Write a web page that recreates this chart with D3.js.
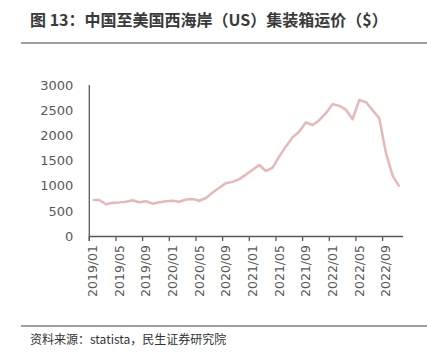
<!DOCTYPE html>
<html><head><meta charset="utf-8">
<script src="https://cdn.jsdelivr.net/npm/d3@7"></script>
<style>
html,body{margin:0;padding:0;background:#fff;}
svg{display:block;}
</style></head>
<body>
<svg id="c" width="427" height="352"></svg>
<script>
const titleText = "图 13：中国至美国西海岸（US）集装箱运价（$）";
const sourceText = "资料来源：statista，民生证券研究院";
const months = [];
for (let y = 2019; y <= 2022; y++) for (let m = 1; m <= 12; m++) months.push(y + "/" + String(m).padStart(2, "0"));
const categories = months.slice(0, 47); // 2019/01 .. 2022/11
const values = [715,715,630,662,668,680,710,672,690,642,672,690,
                702,680,725,735,700,755,865,960,1050,1075,1130,1220,
                1315,1411,1291,1360,1580,1780,1960,2075,2259,2205,2300,2440,
                2620,2585,2510,2320,2702,2660,2500,2340,1650,1200,980];
const yTicks = [0,500,1000,1500,2000,2500,3000];
const xTickLabels = ["2019/01","2019/05","2019/09","2020/01","2020/05","2020/09","2021/01","2021/05","2021/09","2022/01","2022/05","2022/09"];

const svg = d3.select("#c");
const axisColor = "#595959";
const font = "'Noto Sans CJK SC', 'Noto Sans', sans-serif";

svg.append("text").attr("x", 30).attr("y", 26)
  .attr("font-family", font).attr("font-weight", "bold").attr("font-size", 16)
  .attr("fill", "#3a3a3a").text(titleText);
svg.append("line").attr("x1", 21).attr("x2", 427).attr("y1", 43).attr("y2", 43)
  .attr("stroke", "#7f7f7f").attr("stroke-width", 1.5);
svg.append("line").attr("x1", 21).attr("x2", 427).attr("y1", 326).attr("y2", 326)
  .attr("stroke", "#7f7f7f").attr("stroke-width", 1.5);
svg.append("text").attr("x", 30).attr("y", 344)
  .attr("font-family", font).attr("font-size", 12)
  .attr("fill", "#333").text(sourceText);

const x = d3.scaleBand().domain(categories).range([89.3, 402.6]).padding(0);
const y = d3.scaleLinear().domain([0, 3000]).range([236, 85]);

// y axis
const ya = svg.append("g").attr("transform", "translate(89.3,0)")
  .call(d3.axisLeft(y).tickValues(yTicks).tickSize(0).tickPadding(16).tickFormat(d3.format("d")));
ya.select(".domain").attr("stroke", axisColor).attr("stroke-width", 1.3).attr("d", "M0,85V241");
ya.selectAll("text").attr("font-family", "'DejaVu Sans', sans-serif").attr("font-size", 13).attr("fill", axisColor);

// x axis
const xa = svg.append("g").attr("transform", "translate(0,236)")
  .call(d3.axisBottom(x).tickValues(xTickLabels).tickSize(5).tickSizeOuter(0));
xa.select(".domain").attr("stroke", axisColor).attr("stroke-width", 1.3);
xa.selectAll(".tick line").attr("stroke", axisColor).attr("stroke-width", 1.3)
  .attr("transform", "translate(" + (-x.bandwidth() / 2) + ",0)");
xa.selectAll(".tick text")
  .attr("font-family", "'DejaVu Sans', sans-serif").attr("font-size", 12.5).attr("fill", axisColor)
  .attr("transform", "rotate(-90)").attr("text-anchor", "end")
  .attr("x", -9).attr("y", 0).attr("dy", "0.35em");

// line
const line = d3.line().x((d, i) => x(categories[i]) + x.bandwidth() / 2).y(d => y(d));
svg.append("path").datum(values).attr("d", line)
  .attr("fill", "none").attr("stroke", "#e6b9b8").attr("stroke-width", 2.5)
  .attr("stroke-linejoin", "round");
</script>
</body></html>
